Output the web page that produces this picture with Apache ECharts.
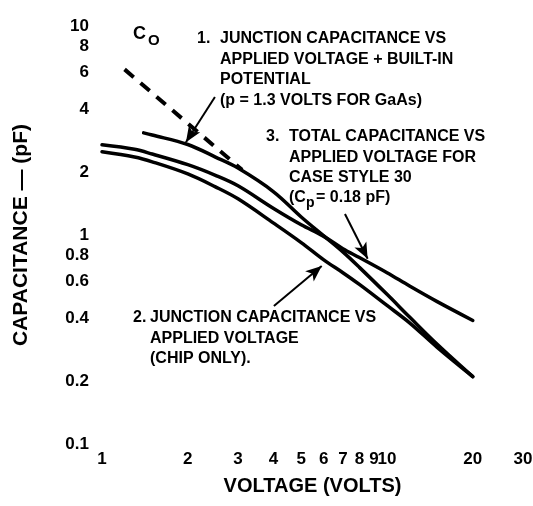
<!DOCTYPE html>
<html>
<head>
<meta charset="utf-8">
<script src="https://cdn.jsdelivr.net/npm/echarts@6/dist/echarts.min.js"></script>
<style>
  html, body { margin: 0; padding: 0; background: #fff; }
  #chart { width: 533px; height: 506px; }
</style>
</head>
<body>
<div id="chart"></div>
<script>
// tick labels
var voltTicks = [1, 2, 3, 4, 5, 6, 7, 8, 9, 10, 20, 30];
var capTicks = [0.1, 0.2, 0.4, 0.6, 0.8, 1, 2, 4, 6, 8, 10];

// 1. junction capacitance vs applied voltage + built-in potential
var voltsBuiltIn = [1.4, 1.5, 2, 2.5, 3, 4, 5, 6, 7, 8, 10, 12, 15, 20];
var capBuiltIn = [3.08, 3.01, 2.71, 2.36, 2.09, 1.61, 1.22, 0.99, 0.83, 0.70, 0.52, 0.405, 0.30, 0.21];

// 2. junction capacitance, chip only  /  3. total capacitance, case style 30
var voltsChip = [1, 1.3, 1.5, 2, 2.5, 3, 4, 5, 6, 7, 8, 10, 12, 15, 20];
var capChip = [2.5, 2.36, 2.24, 1.96, 1.70, 1.49, 1.14, 0.92, 0.76, 0.66, 0.58, 0.46, 0.38, 0.29, 0.21];
var capTotal = [2.70, 2.57, 2.44, 2.17, 1.93, 1.72, 1.34, 1.12, 0.985, 0.86, 0.78, 0.66, 0.57, 0.48, 0.39];

// C0 dashed extension
var voltsCo = [1.2, 3.1];
var capCo = [6.2, 2.05];

// annotation arrows [from, to] in volts / pF
var arrows = [
    [[2.49, 4.57], [1.97, 2.78]],
    [[7.12, 1.26], [8.55, 0.77]],
    [[4.01, 0.457], [5.9, 0.71]]
];

function pairs(xs, ys) {
    var out = [];
    for (var i = 0; i < xs.length; i++) {
        out.push([xs[i], ys[i]]);
    }
    return out;
}

var boldFont = '"Liberation Sans", Arial, sans-serif';
var LINE_H = 20.5;

// y is the middle of the first line
function txt(x, y, text, size) {
    return {
        type: 'text', x: x, y: y - LINE_H / 2,
        style: {
            text: text,
            font: 'bold ' + (size || 16) + 'px ' + boldFont,
            fill: '#000',
            verticalAlign: 'top',
            lineHeight: LINE_H
        }
    };
}

var curveStyle = { color: '#000', width: 3.5, cap: 'round', join: 'round' };

var option = {
    backgroundColor: '#fff',
    animation: false,
    grid: { left: 102, right: 10, top: 26, bottom: 62, containLabel: false, outerBoundsMode: 'none' },
    xAxis: {
        type: 'log', logBase: 10, min: 1, max: 30,
        name: 'VOLTAGE (VOLTS)',
        nameLocation: 'middle',
        nameGap: 32,
        nameTextStyle: { fontFamily: boldFont, fontWeight: 'bold', fontSize: 20, color: '#000' },
        axisLine: { show: false },
        axisTick: { show: false },
        splitLine: { show: false },
        axisLabel: {
            customValues: voltTicks,
            margin: 7,
            fontFamily: boldFont, fontWeight: 'bold', fontSize: 17, color: '#000'
        }
    },
    yAxis: {
        type: 'log', logBase: 10, min: 0.1, max: 10,
        name: 'CAPACITANCE \u2014 (pF)',
        nameLocation: 'middle',
        nameRotate: 90,
        nameGap: 70,
        nameTextStyle: { fontFamily: boldFont, fontWeight: 'bold', fontSize: 21, color: '#000' },
        axisLine: { show: false },
        axisTick: { show: false },
        splitLine: { show: false },
        axisLabel: {
            customValues: capTicks,
            margin: 13,
            fontFamily: boldFont, fontWeight: 'bold', fontSize: 17, color: '#000'
        }
    },
    series: [
        {
            name: 'builtIn', type: 'line', data: pairs(voltsBuiltIn, capBuiltIn),
            smooth: 0.35, showSymbol: false, silent: true, lineStyle: curveStyle
        },
        {
            name: 'chip', type: 'line', data: pairs(voltsChip, capChip),
            smooth: 0.35, showSymbol: false, silent: true, lineStyle: curveStyle
        },
        {
            name: 'total', type: 'line', data: pairs(voltsChip, capTotal),
            smooth: 0.35, showSymbol: false, silent: true, lineStyle: curveStyle
        },
        {
            name: 'co', type: 'line', data: pairs(voltsCo, capCo),
            showSymbol: false, silent: true,
            lineStyle: { color: '#000', width: 4, type: [12, 9] }
        },
        {
            name: 'arrows', type: 'line', data: [], silent: true,
            markLine: {
                silent: true,
                animation: false,
                symbol: ['none', 'arrow'],
                symbolSize: [10, 16],
                label: { show: false },
                lineStyle: { color: '#000', width: 2, type: 'solid' },
                data: arrows.map(function (a) {
                    return [{ coord: a[0] }, { coord: a[1] }];
                })
            }
        }
    ],
    graphic: [
        txt(133, 34, 'C', 18),
        txt(148, 41, 'O', 15),
        txt(197, 39, '1.'),
        txt(220, 39, 'JUNCTION CAPACITANCE VS\nAPPLIED VOLTAGE + BUILT-IN\nPOTENTIAL\n(p = 1.3 VOLTS FOR GaAs)'),
        txt(266, 137, '3.'),
        txt(289, 137, 'TOTAL CAPACITANCE VS\nAPPLIED VOLTAGE FOR\nCASE STYLE 30'),
        txt(289, 198, '(C'),
        txt(306, 203, 'p', 14),
        txt(316, 198, '= 0.18 pF)'),
        txt(133, 318, '2.'),
        txt(150, 318, 'JUNCTION CAPACITANCE VS\nAPPLIED VOLTAGE\n(CHIP ONLY).')
    ]
};

var myChart = echarts.init(document.getElementById('chart'), null, { renderer: 'canvas' });
myChart.setOption(option);
</script>
</body>
</html>
